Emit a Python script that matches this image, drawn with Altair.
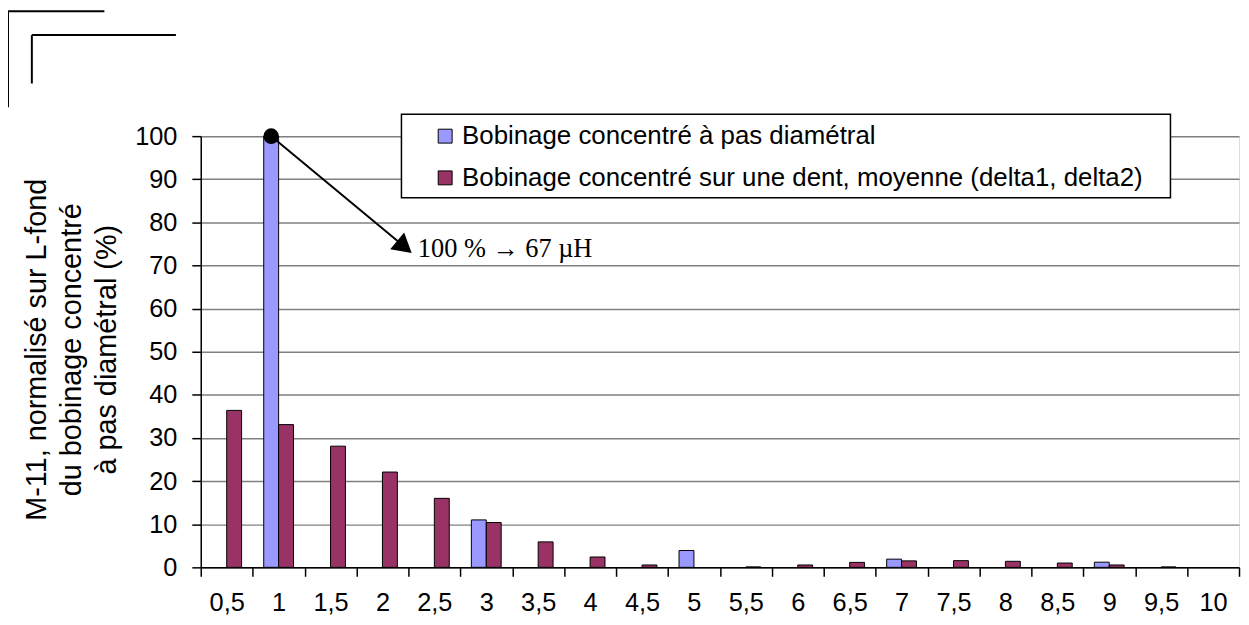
import altair as alt
import pandas as pd

categories = ["0,5", "1", "1,5", "2", "2,5", "3", "3,5", "4", "4,5", "5",
              "5,5", "6", "6,5", "7", "7,5", "8", "8,5", "9", "9,5", "10"]
series_names = ["Bobinage concentré à pas diamétral",
                "Bobinage concentré sur une dent, moyenne (delta1, delta2)"]
diametral = [None, 100, None, None, None, 11.0, None, None, None, 3.9,
             None, None, None, 1.9, None, None, None, 1.2, None, None]
une_dent = [36.4, 33.1, 28.1, 22.1, 16.0, 10.4, 5.9, 2.4, 0.55, None,
            0.1, 0.55, 1.15, 1.5, 1.55, 1.4, 1.0, 0.55, 0.1, None]
y_ticks = list(range(0, 101, 10))
colors = ["#9999FF", "#993366"]
y_title_lines = ["M-11, normalisé sur L-fond", "du bobinage concentré", "à pas diamétral (%)"]
annotation_text = "100 % \u2192 67 \u00b5H"
annot_cat = "1"
annot_value = 100

rows = []
for c, v in zip(categories, diametral):
    if v is not None:
        rows.append({"cat": c, "series": series_names[0], "value": v})
for c, v in zip(categories, une_dent):
    if v is not None:
        rows.append({"cat": c, "series": series_names[1], "value": v})
df = pd.DataFrame(rows)

FONT = "Liberation Sans"

x_enc = alt.X("cat:N", sort=categories,
              scale=alt.Scale(domain=categories, paddingInner=0, paddingOuter=0),
              axis=alt.Axis(title=None, labelAngle=0, labelFontSize=25.5, labelColor="black",
                            labelFont=FONT, tickColor="black", domainColor="black",
                            tickSize=9, tickBand="extent", labelPadding=14,
                            domainWidth=1.5, tickWidth=1.5, grid=False))
y_enc = alt.Y("value:Q", scale=alt.Scale(domain=[0, 100], nice=False),
              axis=alt.Axis(title=None, values=y_ticks, labelFontSize=25.5, labelColor="black",
                            labelFont=FONT, tickSize=9, labelPadding=15,
                            tickColor="black", domainColor="black", domainWidth=1.5,
                            tickWidth=1.5, gridColor="#808080", gridWidth=1.5))
xoff_enc = alt.XOffset("series:N", sort=series_names,
                       scale=alt.Scale(domain=series_names, paddingInner=0, paddingOuter=0.742))

one = pd.DataFrame({"a": [0]})

# legend frame
legend_box = alt.Chart(one).mark_rect(fill="white", stroke="black", strokeWidth=1.5).encode(
    x=alt.value(202), x2=alt.value(976), y=alt.value(-22), y2=alt.value(62))

bars = alt.Chart(df).mark_bar(stroke="black", strokeWidth=1, opacity=1).encode(
    x=x_enc, y=y_enc, xOffset=xoff_enc,
    color=alt.Color("series:N", sort=series_names,
                    scale=alt.Scale(domain=series_names, range=colors),
                    legend=alt.Legend(orient="none", legendX=233, legendY=-13, title=None,
                                      symbolType="square", symbolSize=196,
                                      symbolStrokeColor="black", symbolStrokeWidth=1,
                                      symbolOpacity=1, labelFontSize=26, labelFont=FONT,
                                      labelColor="black", labelOffset=4, rowPadding=16,
                                      padding=0, labelLimit=2000)))

annot_df = pd.DataFrame({"cat": [annot_cat], "series": [series_names[0]], "value": [annot_value]})
dot = alt.Chart(annot_df).mark_circle(color="black", size=245, opacity=1).encode(
    x=alt.X("cat:N", sort=categories), y="value:Q", xOffset=alt.XOffset("series:N", sort=series_names))

arrow_line = alt.Chart(one).mark_rule(color="black", strokeWidth=2).encode(
    x=alt.value(71), y=alt.value(0), x2=alt.value(206), y2=alt.value(112))
arrow_head = alt.Chart(one).mark_point(shape="triangle-right", filled=True, color="black",
                                       size=480, angle=39.8, opacity=1).encode(
    x=alt.value(205), y=alt.value(111.5))
annot = alt.Chart(one).mark_text(text=annotation_text, font="Liberation Serif", fontSize=26.5,
                                 align="left", baseline="alphabetic", color="black").encode(
    x=alt.value(218.5), y=alt.value(122))

title_layers = []
for line, xp in zip(y_title_lines, [-155.3, -120.3, -85.3]):
    title_layers.append(
        alt.Chart(one).mark_text(text=line, font=FONT, fontSize=29, angle=270,
                                 align="center", baseline="alphabetic", color="black").encode(
            x=alt.value(xp), y=alt.value(215)))

deco = []
for (x1, y1, x2, y2) in [(-194, -125.7, -97, -125.7), (-194, -125.7, -194, -29),
                         (-170, -101.7, -25, -101.7), (-170, -101.7, -170, -53)]:
    deco.append(alt.Chart(one).mark_rule(color="black", strokeWidth=2).encode(
        x=alt.value(x1), y=alt.value(y1), x2=alt.value(x2), y2=alt.value(y2)))

chart = alt.layer(legend_box, bars, dot, arrow_line, arrow_head, annot,
                  *title_layers, *deco).properties(
    width=1045, height=434,
    padding={"left": 194, "top": 127, "right": 2, "bottom": 48},
    autosize=alt.AutoSizeParams(type="none"),
).configure_view(stroke="#808080", strokeWidth=1.5).configure(font=FONT)

chart.save("out.html", embed_options={"renderer": "svg", "actions": False})
